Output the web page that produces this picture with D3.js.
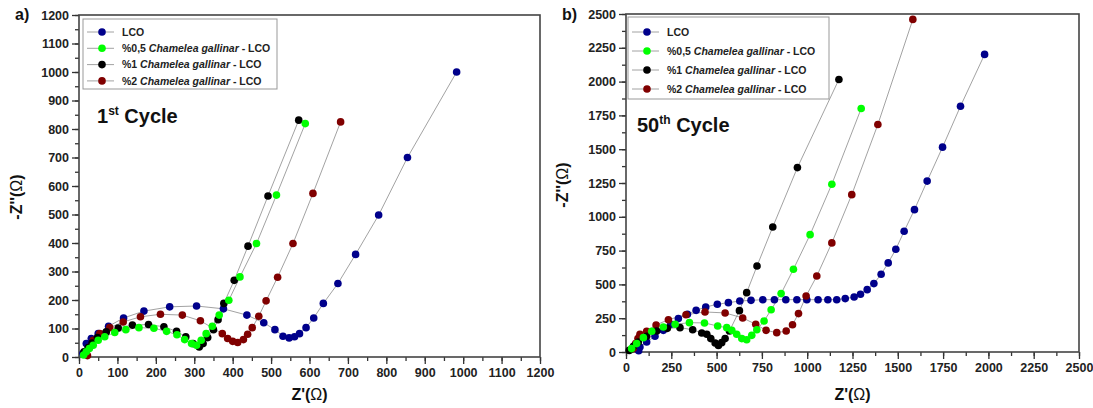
<!DOCTYPE html>
<html><head><meta charset="utf-8">
<script src="https://cdn.jsdelivr.net/npm/d3@7"></script>
<style>body{margin:0;background:#fff}svg{display:block}text{font-family:"Liberation Sans",Arial,sans-serif}</style>
</head><body>
<svg id="c" width="1093" height="408"></svg>
<script>
// ---- Data: panel a) 1st cycle ----
const seriesNames = ["LCO", "%0,5 Chamelea gallinar - LCO", "%1 Chamelea gallinar - LCO", "%2 Chamelea gallinar - LCO"];
const seriesColors = ["#00008b", "#00ff00", "#000000", "#800000"];

const a_lco_x = [10,19,32,50,77,116,169,236,306,376,437,481,510,531,547,561,574,591,611,636,674,720,780,855,983];
const a_lco_y = [12,47,65,82,108,137,161,176,179,169,147,120,96,73,67,71,82,103,137,188,258,360,498,700,1000];
const a_g05_x = [12,19,27,37,50,67,93,122,156,195,228,255,275,293,306,318,331,347,365,390,419,462,514,589];
const a_g05_y = [7,18,30,41,59,71,86,96,103,101,90,78,61,47,41,59,82,108,147,199,281,398,568,819];
const a_g1_x = [13,24,34,48,71,102,139,181,221,254,278,297,313,323,335,350,362,377,404,440,492,572];
const a_g1_y = [18,33,49,68,88,102,112,114,106,90,71,47,35,47,68,96,131,188,269,389,565,831];
const a_g2_x = [22,28,37,54,80,115,160,212,269,316,373,387,400,413,428,439,451,468,487,517,557,609,681];
const a_g2_y = [5,35,59,82,103,123,141,150,147,127,82,65,55,51,61,80,103,143,197,280,398,574,825];

// ---- Data: panel b) 50th cycle ----
const b_lco_x = [70,77,114,160,206,247,289,339,387,440,504,565,628,690,755,819,882,943,998,1060,1114,1163,1210,1259,1294,1331,1368,1408,1447,1489,1535,1592,1662,1747,1846,1979];
const b_lco_y = [10,37,74,116,160,205,247,279,308,333,353,365,377,382,387,387,387,387,387,387,387,387,395,407,427,461,506,575,659,760,893,1053,1264,1515,1818,2201];
const b_g05_x = [31,59,96,142,206,271,350,433,506,556,584,611,639,666,694,722,762,801,856,924,1016,1136,1298];
const b_g05_y = [25,62,106,153,185,205,217,215,192,180,160,131,99,91,123,165,229,313,432,612,868,1241,1801];
const b_g1_x = [18,41,68,114,169,228,298,368,418,446,468,492,510,528,547,571,626,666,723,810,946,1175];
const b_g1_y = [12,42,74,116,155,175,180,165,141,131,99,67,49,69,99,155,306,439,636,925,1364,2016];
const b_g2_x = [40,53,66,77,114,166,234,331,436,547,644,716,773,832,884,919,952,994,1053,1136,1246,1390,1583];
const b_g2_y = [25,62,99,131,153,200,239,276,296,289,252,205,160,143,155,202,284,414,562,807,1164,1683,2460];

const aX = [a_lco_x, a_g05_x, a_g1_x, a_g2_x], aY = [a_lco_y, a_g05_y, a_g1_y, a_g2_y];
const bX = [b_lco_x, b_g05_x, b_g1_x, b_g2_x], bY = [b_lco_y, b_g05_y, b_g1_y, b_g2_y];

const aXTicks = d3.range(0, 1201, 100), aYTicks = d3.range(0, 1201, 100);
const bXTicks = d3.range(0, 2501, 250), bYTicks = d3.range(0, 2501, 250);

const svg = d3.select("#c");

function panel(cfg) {
  const g = svg.append("g");
  const x = d3.scaleLinear().domain([0, cfg.xmax]).range([cfg.left, cfg.right]);
  const y = d3.scaleLinear().domain([0, cfg.ymax]).range([cfg.bottom, cfg.top]);

  const xMinor = d3.axisBottom(x).tickValues(d3.range(0, cfg.xmax + 1, cfg.xStep / 2)).tickSize(4).tickFormat("");
  const yMinor = d3.axisLeft(y).tickValues(d3.range(0, cfg.ymax + 1, cfg.yStep / 2)).tickSize(4).tickFormat("");
  const xAx = d3.axisBottom(x).tickValues(cfg.xTicks).tickSize(7).tickPadding(4).tickFormat(d3.format("d"));
  const yAx = d3.axisLeft(y).tickValues(cfg.yTicks).tickSize(7).tickPadding(3).tickFormat(d3.format("d"));
  [xMinor, xAx].forEach(a => g.append("g").attr("transform", `translate(0,${cfg.bottom})`).call(a));
  [yMinor, yAx].forEach(a => g.append("g").attr("transform", `translate(${cfg.left},0)`).call(a));
  g.selectAll(".domain").remove();
  g.selectAll(".tick line").attr("stroke", "#333").attr("stroke-width", 1.3);
  g.selectAll(".tick text").attr("font-size", 12.5).attr("font-weight", "bold").attr("fill", "#222");

  g.append("rect").attr("x", cfg.left).attr("y", cfg.top)
    .attr("width", cfg.right - cfg.left).attr("height", cfg.bottom - cfg.top)
    .attr("fill", "none").attr("stroke", "#444").attr("stroke-width", 1.6);

  const line = d3.line().x(d => x(d[0])).y(d => y(d[1]));
  const order = [0, 3, 2, 1];
  order.forEach(i => {
    const pts = cfg.X[i].map((v, k) => [v, cfg.Y[i][k]]);
    g.append("path").attr("d", line(pts)).attr("fill", "none").attr("stroke", "#8a8a8a").attr("stroke-width", 0.8);
  });
  order.forEach(i => {
    const pts = cfg.X[i].map((v, k) => [v, cfg.Y[i][k]]);
    g.append("g").selectAll("circle").data(pts).join("circle")
      .attr("cx", d => x(d[0])).attr("cy", d => y(d[1])).attr("r", 3.8).attr("fill", seriesColors[i]);
  });

  const L = cfg.legend;
  g.append("rect").attr("x", L.x).attr("y", L.y).attr("width", L.w).attr("height", L.h)
    .attr("fill", "#fff").attr("stroke", "#999").attr("stroke-width", 1);
  seriesNames.forEach((name, i) => {
    const yy = L.y + L.first + i * L.dy;
    g.append("line").attr("x1", L.x + 4).attr("x2", L.x + 31).attr("y1", yy).attr("y2", yy)
      .attr("stroke", "#8a8a8a").attr("stroke-width", 0.8);
    g.append("circle").attr("cx", L.x + 19).attr("cy", yy).attr("r", 3.8).attr("fill", seriesColors[i]);
    const t = g.append("text").attr("x", L.x + 39).attr("y", yy + 3.8).attr("font-size", 10.5).attr("font-weight", "bold").attr("fill", "#222");
    if (i === 0) { t.text(name); }
    else {
      const m = name.match(/^(%\S+) (Chamelea gallinar) (- LCO)$/);
      t.append("tspan").text(m[1] + " ");
      t.append("tspan").attr("font-style", "italic").text(m[2]);
      t.append("tspan").text(" " + m[3]);
    }
  });

  const c = g.append("text").attr("x", cfg.cyc.x).attr("y", cfg.cyc.y).attr("font-size", 20).attr("font-weight", "bold").attr("fill", "#111");
  c.append("tspan").text(cfg.cyc.num);
  c.append("tspan").attr("font-size", 12).attr("dy", -8).text(cfg.cyc.sup);
  c.append("tspan").attr("dy", 8).text(" Cycle");

  const xt = g.append("text").attr("x", (cfg.left + cfg.right) / 2).attr("y", 400).attr("text-anchor", "middle")
    .attr("font-size", 16).attr("font-weight", "bold").attr("fill", "#111");
  xt.append("tspan").text("Z'(");
  xt.append("tspan").attr("font-weight", "normal").text("Ω");
  xt.append("tspan").text(")");
  const yt = g.append("text").attr("transform", `translate(${cfg.ytx},${cfg.yty}) rotate(-90)`).attr("text-anchor", "middle")
    .attr("font-size", 16).attr("font-weight", "bold").attr("fill", "#111");
  yt.append("tspan").text("-Z''(");
  yt.append("tspan").attr("font-weight", "normal").text("Ω");
  yt.append("tspan").text(")");

  g.append("text").attr("x", cfg.lab.x).attr("y", cfg.lab.y).attr("font-size", 16).attr("font-weight", "bold").attr("fill", "#111").text(cfg.lab.t);
}

panel({ left: 79, right: 540, top: 15, bottom: 357, xmax: 1200, ymax: 1200, xStep: 100, yStep: 100,
  xTicks: aXTicks, yTicks: aYTicks, X: aX, Y: aY,
  legend: { x: 83, y: 19, w: 194, h: 70, first: 13, dy: 16.3 },
  cyc: { x: 97, y: 123, num: "1", sup: "st" },
  ytx: 22, yty: 197, lab: { x: 15, y: 20, t: "a)" } });

panel({ left: 626, right: 1079, top: 14, bottom: 352, xmax: 2500, ymax: 2500, xStep: 250, yStep: 250,
  xTicks: bXTicks, yTicks: bYTicks, X: bX, Y: bY,
  legend: { x: 628, y: 17, w: 201, h: 82, first: 15, dy: 19 },
  cyc: { x: 637, y: 132, num: "50", sup: "th" },
  ytx: 568, yty: 185, lab: { x: 562, y: 20, t: "b)" } });
</script>
</body></html>
